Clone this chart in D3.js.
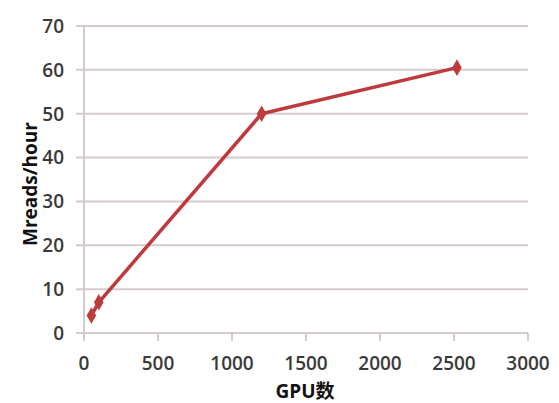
<!DOCTYPE html>
<html>
<head>
<meta charset="utf-8">
<script src="https://cdn.jsdelivr.net/npm/d3@7"></script>
<style>
  body { margin: 0; background: #fff; }
  svg text { font-family: "Open Sans", "Noto Sans CJK SC", sans-serif; }
</style>
</head>
<body>
<div class="visualisation"></div>
<script>
// Chart values
const gpus = [50, 100, 1200, 2520];
const mreads = [4, 7, 50, 60.5];
const xTicks = [0, 500, 1000, 1500, 2000, 2500, 3000];
const yTicks = [0, 10, 20, 30, 40, 50, 60, 70];

const width = 559;
const height = 403;
const margin = { top: 26, right: 31, bottom: 70, left: 84 };

const svg = d3.select(".visualisation")
    .append("svg")
    .attr("width", width)
    .attr("height", height);

const x = d3.scaleLinear()
    .domain([0, 3000])
    .range([margin.left, width - margin.right]);

const y = d3.scaleLinear()
    .domain([0, 70])
    .range([height - margin.bottom, margin.top]);

// grid lines
svg.append("g")
    .selectAll("line")
    .data(yTicks)
    .enter()
    .append("line")
    .attr("x1", margin.left - 8)
    .attr("x2", x(3000))
    .attr("y1", d => y(d))
    .attr("y2", d => y(d))
    .attr("stroke", "#d4cccc")
    .attr("stroke-width", 2);

// y axis line
svg.append("line")
    .attr("x1", x(0)).attr("x2", x(0))
    .attr("y1", y(70)).attr("y2", y(0))
    .attr("stroke", "#d4cccc")
    .attr("stroke-width", 2);

// x axis ticks
svg.append("g")
    .selectAll("line")
    .data(xTicks)
    .enter()
    .append("line")
    .attr("x1", d => x(d))
    .attr("x2", d => x(d))
    .attr("y1", y(0))
    .attr("y2", y(0) + 8)
    .attr("stroke", "#d4cccc")
    .attr("stroke-width", 2);

// tick labels
svg.append("g")
    .selectAll("text")
    .data(yTicks)
    .enter()
    .append("text")
    .attr("x", 64)
    .attr("y", d => y(d))
    .attr("dy", "0.36em")
    .attr("text-anchor", "end")
    .attr("font-size", 19)
    .attr("font-weight", 600)
    .attr("fill", "#3a3a3a")
    .text(d => d);

svg.append("g")
    .selectAll("text")
    .data(xTicks)
    .enter()
    .append("text")
    .attr("x", d => x(d))
    .attr("y", y(0) + 37)
    .attr("text-anchor", "middle")
    .attr("font-size", 19)
    .attr("font-weight", 600)
    .attr("fill", "#3a3a3a")
    .text(d => d);

// axis titles
svg.append("text")
    .attr("transform", "translate(37,184) rotate(-90)")
    .attr("text-anchor", "middle")
    .attr("font-size", 19)
    .attr("font-weight", "bold")
    .attr("fill", "#111")
    .text("Mreads/hour");

svg.append("text")
    .attr("x", 305)
    .attr("y", 398)
    .attr("text-anchor", "middle")
    .attr("font-size", 19)
    .attr("font-weight", "bold")
    .attr("fill", "#111")
    .text("GPU数");

// series
const data = gpus.map((g, i) => ({ g: g, v: mreads[i] }));

const line = d3.line()
    .x(d => x(d.g))
    .y(d => y(d.v));

svg.append("path")
    .datum(data)
    .attr("d", line)
    .attr("fill", "none")
    .attr("stroke", "#be3a3c")
    .attr("stroke-width", 3.5)
    .attr("stroke-linejoin", "round");

svg.append("g")
    .selectAll("path")
    .data(data)
    .enter()
    .append("path")
    .attr("d", d3.symbol().type(d3.symbolDiamond).size(80))
    .attr("transform", d => "translate(" + x(d.g) + "," + y(d.v) + ")")
    .attr("fill", "#be3a3c");
</script>
</body>
</html>
